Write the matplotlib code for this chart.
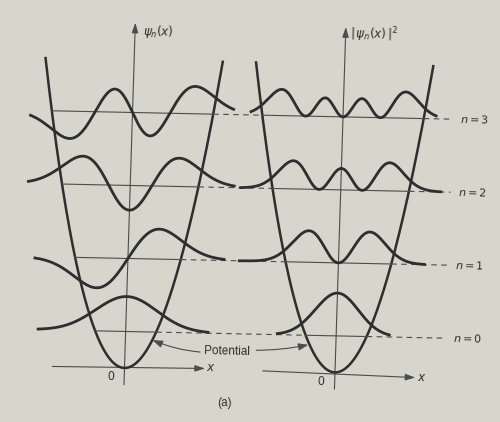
"""
Harmonic oscillator, textbook style: psi_n(x) (left) and |psi_n(x)|^2 (right)
drawn on their energy levels inside the parabolic potential, n = 0..3.

Everything lives in one axes: x in oscillator lengths, y in units of hbar*omega.
The right panel is the same picture shifted by RIGHT_OFFSET. The whole drawing
is skewed a touch, like the scanned page it copies.
"""

from math import factorial

import numpy as np
import matplotlib.pyplot as plt
from matplotlib.patches import FancyArrowPatch
from matplotlib.transforms import Affine2D
from numpy.polynomial.hermite import hermval

plt.rcParams["font.family"] = ["Liberation Sans", "DejaVu Sans"]
plt.rcParams["mathtext.fontset"] = "dejavusans"

BG = "#d6d6cc"
INK = "#2e2e2e"
THIN = "#4c4c4c"

# ---------------------------------------------------------------------------
# Values.
# ---------------------------------------------------------------------------
N_LEVELS = [0, 1, 2, 3]
PSI_X0 = [-2.87, -3.05, -3.34, -3.34]     # left panel curve extents (xi)
PSI_X1 = [2.70, 3.15, 3.41, 3.31]
PROB_X0 = [-1.93, -3.25, -3.28, -3.02]    # right panel curve extents (xi)
PROB_X1 = [1.74, 2.82, 3.28, 3.05]
PSI_SCALE = 0.637      # hbar*omega per unit psi
PROB_SCALE = 1.04      # hbar*omega per unit |psi|^2
V_TOP = 4.22           # parabola drawn up to this energy
AXIS_Y = [-0.23, 4.73]
AXIS_X = [-2.37, 2.64]
X_LABEL_Y = [0.02, -0.06]
ZERO_LABEL = (-0.45, -0.13)

# layout (page pixels) and skew of the scan
PX_PER_XI = 30.5
PX_PER_E = 73.0
ORIGIN_PX = (129.5, 51.5)        # left panel origin, display pixels
RIGHT_OFFSET = (340.0 - ORIGIN_PX[0]) / PX_PER_XI
LINE_END = 3.6
LABEL_X = 3.84
LEAN_DEG = 1.8                   # verticals lean right
TILT_DEG = -1.2                  # horizontals drop to the right


def psi(n, xi):
    c = np.zeros(n + 1)
    c[n] = 1.0
    norm = 1.0 / np.sqrt(2.0 ** n * factorial(n) * np.sqrt(np.pi))
    return norm * hermval(xi, c) * np.exp(-xi ** 2 / 2.0)


fig = plt.figure(figsize=(5.0, 4.22), dpi=100, facecolor=BG)
ax = fig.add_axes([0, 0, 1, 1])
ax.set_xlim(-ORIGIN_PX[0] / PX_PER_XI, (500 - ORIGIN_PX[0]) / PX_PER_XI)
ax.set_ylim(-ORIGIN_PX[1] / PX_PER_E, (422 - ORIGIN_PX[1]) / PX_PER_E)
ax.axis("off")
skew = Affine2D().translate(-250, -211).skew_deg(LEAN_DEG, TILT_DEG).translate(250, 211)
tr = ax.transData + skew


def line(x, y, **kw):
    ax.plot(x, y, transform=tr, clip_on=False, **kw)


def arrow(p0, p1, color=THIN, lw=0.8, style="-|>,head_length=0.5,head_width=0.16",
          rad=0.0):
    ax.add_patch(FancyArrowPatch(p0, p1, transform=tr, arrowstyle=style,
                                 mutation_scale=12, lw=lw, color=color,
                                 shrinkA=0, shrinkB=0, clip_on=False,
                                 connectionstyle=f"arc3,rad={rad}"))


def label(x, y, s, size=8.5, **kw):
    ax.text(x, y, s, transform=tr, rotation=TILT_DEG, rotation_mode="anchor",
            color=INK, fontsize=size, clip_on=False, **kw)


# ---------------------------------------------------------------------------
# Axes, potential and energy levels.
# ---------------------------------------------------------------------------
xi_top = np.sqrt(2.0 * V_TOP)
xi_pot = np.linspace(-xi_top, xi_top, 400)
for off, xl_y in zip((0.0, RIGHT_OFFSET), X_LABEL_Y):
    arrow((off, AXIS_Y[0]), (off, AXIS_Y[1]))
    arrow((off + AXIS_X[0], 0.0), (off + AXIS_X[1], xl_y * 0.8))
    line(xi_pot + off, xi_pot ** 2 / 2.0, color=INK, lw=1.8)
    label(off + ZERO_LABEL[0], ZERO_LABEL[1], "0", ha="center", va="center")
    label(off + 2.84, xl_y, "$x$", ha="center", va="center")

dash = (0, (5, 4))
for n in N_LEVELS:
    E = n + 0.5
    xt = np.sqrt(2.0 * E)
    line([-xt, xt], [E, E], color=THIN, lw=0.8)
    line([xt, RIGHT_OFFSET - xt], [E, E], color=THIN, lw=0.8, linestyle=dash)
    line([RIGHT_OFFSET - xt, RIGHT_OFFSET + xt], [E, E], color=THIN, lw=0.8)
    line([RIGHT_OFFSET + xt, RIGHT_OFFSET + LINE_END], [E, E], color=THIN,
         lw=0.8, linestyle=dash)
    label(RIGHT_OFFSET + LABEL_X, E, f"$n = {n}$", size=8, ha="left", va="center")

# ---------------------------------------------------------------------------
# Wavefunctions (left) and probability densities (right).
# ---------------------------------------------------------------------------
for n, a, b in zip(N_LEVELS, PSI_X0, PSI_X1):
    xi = np.linspace(a, b, 400)
    line(xi, n + 0.5 + PSI_SCALE * psi(n, xi), color=INK, lw=2.0)

for n, a, b in zip(N_LEVELS, PROB_X0, PROB_X1):
    xi = np.linspace(a, b, 400)
    line(xi + RIGHT_OFFSET, n + 0.5 + PROB_SCALE * psi(n, xi) ** 2,
         color=INK, lw=2.0)

# ---------------------------------------------------------------------------
# Text.
# ---------------------------------------------------------------------------
label(0.26, 4.61, r"$\psi_n(x)$", ha="left", va="center")
label(RIGHT_OFFSET + 0.14, 4.63, r"$|\,\psi_n(x)\,|^2$", ha="left", va="center")

label(3.34, 0.26, "Potential", ha="center", va="center")
arrow((2.46, 0.24), (0.89, 0.39), style="-|>,head_length=0.5,head_width=0.18",
      rad=-0.08)
arrow((4.30, 0.28), (RIGHT_OFFSET - 0.90, 0.37),
      style="-|>,head_length=0.5,head_width=0.18", rad=0.05)
label(3.33, -0.45, "(a)", ha="center", va="center")

fig.savefig("out.png", dpi=100, facecolor=BG)
plt.close(fig)
